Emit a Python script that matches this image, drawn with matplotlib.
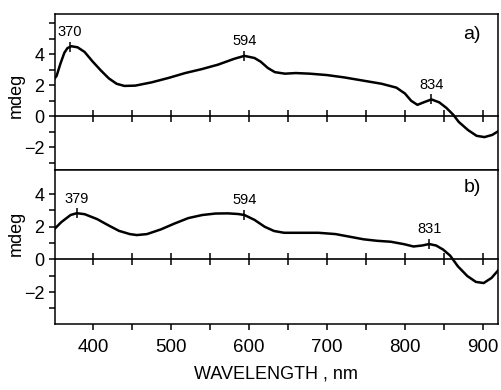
import numpy as np
import matplotlib
matplotlib.use('Agg')
import matplotlib.pyplot as plt

plt.rcParams['font.family'] = ['Liberation Sans', 'DejaVu Sans']

# ---- data (wavelength in nm, CD in mdeg) ----
wl_a = [349, 353, 358, 363, 367, 372, 380, 389, 399, 410, 420, 430, 440, 454,
        475, 497, 518, 539, 560, 581, 594, 607, 615, 624, 633, 646, 660, 678,
        700, 722, 749, 770, 789, 800, 808, 816, 825, 834, 844, 853, 862, 869,
        881, 892, 902, 912, 920]
cd_a = [2.35, 2.6, 3.4, 4.1, 4.4, 4.52, 4.45, 4.15, 3.55, 2.95, 2.45, 2.1, 1.96, 1.98,
        2.19, 2.48, 2.79, 3.04, 3.33, 3.71, 3.9, 3.76, 3.52, 3.12, 2.85, 2.75, 2.79, 2.75,
        2.66, 2.51, 2.28, 2.1, 1.85, 1.47, 1.0, 0.74, 0.92, 1.09, 0.9, 0.55, 0.1, -0.36,
        -0.89, -1.26, -1.34, -1.2, -0.95]

wl_b = [349, 359, 371, 379, 389, 405, 419, 433, 447, 456, 469, 487, 504, 522,
        540, 557, 573, 586, 594, 607, 620, 632, 645, 667, 689, 711, 729, 747,
        764, 782, 799, 811, 822, 831, 840, 849, 858, 868, 880, 891, 901, 911, 920]
cd_b = [1.8, 2.28, 2.72, 2.83, 2.77, 2.47, 2.1, 1.75, 1.55, 1.49, 1.55, 1.84, 2.19, 2.53,
        2.72, 2.81, 2.82, 2.78, 2.72, 2.42, 2.0, 1.74, 1.63, 1.63, 1.63, 1.55, 1.39, 1.23,
        1.14, 1.08, 0.93, 0.79, 0.85, 0.94, 0.85, 0.6, 0.23, -0.43, -1.02, -1.38, -1.45, -1.14, -0.65]

peaks_a = [370, 594, 834]
peaks_b = [379, 594, 831]
panel_labels = ['a)', 'b)']

x_major = [400, 500, 600, 700, 800, 900]
x_minor = [450, 550, 650, 750, 850]
y_major = [-2, 0, 2, 4]
y_minor_a = [-3, -1, 1, 3, 5, 6]
y_minor_b = [-3, -1, 1, 3]

# ---- layout ----
fig = plt.figure(figsize=(5.02, 3.90), dpi=100)
L, W = 55 / 502, (497.7 - 55) / 502
ax_a = fig.add_axes([L, 1 - 169.8 / 390, W, (169.8 - 14.3) / 390])
ax_b = fig.add_axes([L, 1 - 324 / 390, W, (324 - 169.8) / 390])

xlim = (351, 919)
ylims = [(-3.45, 6.58), (-3.96, 5.49)]
ylab_y = [0.481, 0.59]

for ax, wl, cd, peaks, lab, ylim, ymin, ly in [
        (ax_a, wl_a, cd_a, peaks_a, panel_labels[0], ylims[0], y_minor_a, ylab_y[0]),
        (ax_b, wl_b, cd_b, peaks_b, panel_labels[1], ylims[1], y_minor_b, ylab_y[1])]:
    ax.plot(wl, cd, color='black', lw=1.8, solid_capstyle='round',
            solid_joinstyle='round', zorder=3)
    ax.set_xlim(*xlim)
    ax.set_ylim(*ylim)
    for s in ax.spines.values():
        s.set_linewidth(1.1)
    ax.set_yticks(y_major)
    ax.set_yticks(ymin, minor=True)
    ax.tick_params(axis='y', which='both', direction='out', length=4.5, width=1.1,
                   pad=3.0, labelsize=13, right=False)
    ax.set_xticks(x_major)
    ax.set_xticks(x_minor, minor=True)
    ax.tick_params(axis='x', which='both', top=False)
    ax.set_ylabel('mdeg', fontsize=13)
    ax.yaxis.set_label_coords(-0.068, ly)

    # zero line with ticks
    frac = (0 - ylim[0]) / (ylim[1] - ylim[0])
    sec = ax.secondary_xaxis(frac)
    sec.set_xticks(x_major + x_minor)
    sec.tick_params(axis='x', which='both', direction='inout', length=9, width=1.1,
                    labelbottom=False, labeltop=False)
    for s in sec.spines.values():
        s.set_linewidth(1.2)

    # peak markers and labels
    py = np.interp(peaks, wl, cd)
    ax.plot(peaks, py, ls='none', marker='|', ms=7.5, mew=1.1, color='black', zorder=4)
    for p, v in zip(peaks, py):
        ax.annotate(str(p), (p, v), xytext=(0, 5.5), textcoords='offset points',
                    ha='center', va='bottom', fontsize=10.5)

    ax.text(0.942, 0.873 if ax is ax_a else 0.883, lab, transform=ax.transAxes,
            ha='center', va='center', fontsize=14)

ax_a.tick_params(axis='x', which='both', bottom=False, labelbottom=False)
ax_b.tick_params(axis='x', which='both', direction='out', length=4.6, width=1.1,
                 pad=6.0, labelsize=13.5)
ax_b.set_xlabel('WAVELENGTH , nm', fontsize=13, labelpad=7)

fig.savefig('out.png', dpi=100)
